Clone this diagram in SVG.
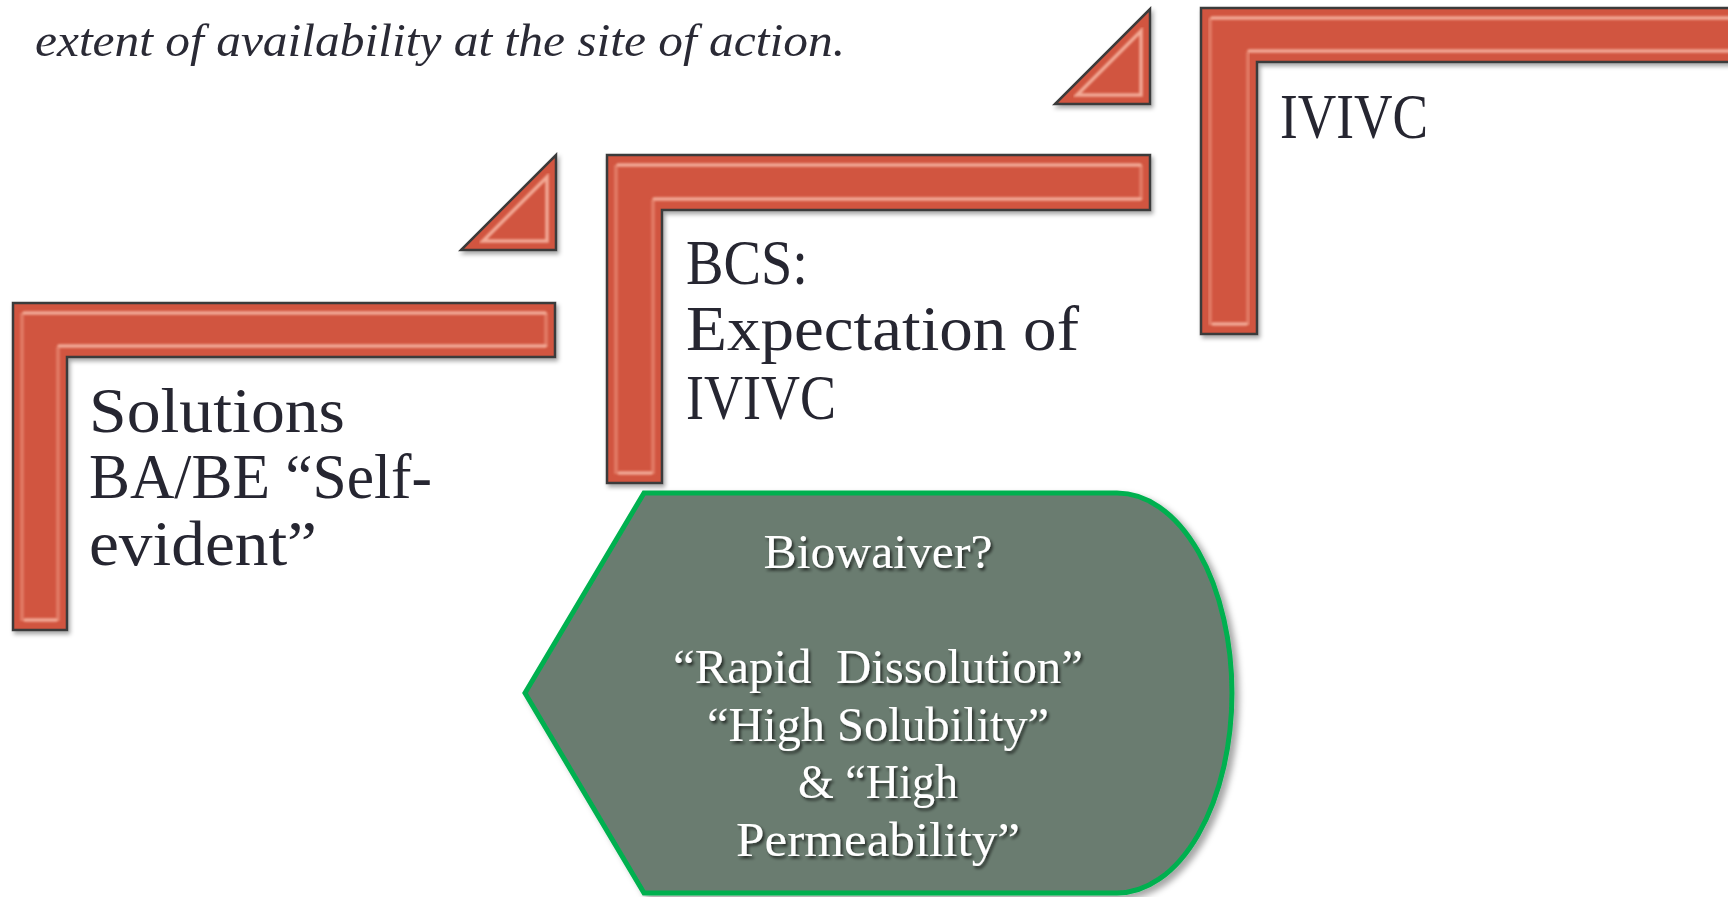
<svg xmlns="http://www.w3.org/2000/svg" width="1728" height="897" viewBox="0 0 1728 897">
  <defs>
    <filter id="shadow" x="-5%" y="-5%" width="115%" height="115%">
      <feDropShadow dx="2" dy="3" stdDeviation="2" flood-color="#000" flood-opacity="0.35"/>
    </filter>
    <filter id="soft" x="-5%" y="-5%" width="110%" height="110%">
      <feGaussianBlur stdDeviation="1.3"/>
    </filter>
    <filter id="boxshadow" x="-5%" y="-5%" width="115%" height="115%">
      <feDropShadow dx="5" dy="4" stdDeviation="3" flood-color="#000" flood-opacity="0.35"/>
    </filter>
    <filter id="textshadow" x="-5%" y="-20%" width="115%" height="150%">
      <feDropShadow dx="2" dy="2.5" stdDeviation="1.5" flood-color="#000" flood-opacity="0.65"/>
    </filter>
  </defs>
  <style>
    .bracket { fill: #D1543F; stroke: #3a3a3a; stroke-width: 2.5; stroke-linejoin: miter; filter: url(#shadow); }
    .bevel { fill: none; stroke: #F8B8A4; stroke-width: 3.5; stroke-linecap: round; opacity: 0.85; filter: url(#soft); }
    .bevel-side { fill: none; stroke: #EE9680; stroke-width: 4; opacity: 0.55; filter: url(#soft); }
    .label { font-family: "Liberation Serif", "DejaVu Serif", serif; font-size: 63px; fill: #262631; }
    .note { font-family: "Liberation Serif", "DejaVu Serif", serif; font-style: italic; font-size: 47px; fill: #2a2a35; }
    .callout { fill: #6B7C70; stroke: #00B050; stroke-width: 5; stroke-linejoin: miter; filter: url(#boxshadow); }
    .callout-text { font-family: "Liberation Serif", "DejaVu Serif", serif; font-size: 48px; fill: #ffffff; text-anchor: middle; filter: url(#textshadow); }
  </style>

  <rect width="1728" height="897" fill="#ffffff"/>

  <!-- definition line at the top -->
  <g id="definition">
    <text class="note" x="35" y="56" textLength="810" lengthAdjust="spacingAndGlyphs">extent of availability at the site of action.</text>
  </g>

  <!-- step 1 -->
  <g id="step-solutions">
    <path class="bracket" d="M13,303 H555 V357 H67 V630 H13 Z"/>
    <path class="bevel-side" d="M22,313 V621 M58,347 V621 M546,313 V347"/>
    <path class="bevel" d="M24,313 H545 M59,346 H545 M25,620 H56"/>
    <text class="label" x="89" y="432" textLength="256" lengthAdjust="spacingAndGlyphs">Solutions</text>
    <text class="label" x="89" y="498" textLength="343" lengthAdjust="spacingAndGlyphs">BA/BE “Self-</text>
    <text class="label" x="89" y="565" textLength="228" lengthAdjust="spacingAndGlyphs">evident”</text>
  </g>

  <!-- step 2 -->
  <g id="step-bcs">
    <path class="bracket" d="M607,155 H1150 V210 H662 V483 H607 Z"/>
    <path class="bevel-side" d="M616,165 V474 M653,200 V474 M1141,165 V200"/>
    <path class="bevel" d="M618,165 H1140 M654,199 H1140 M619,473 H651"/>
    <text class="label" x="686" y="284" textLength="122" lengthAdjust="spacingAndGlyphs">BCS:</text>
    <text class="label" x="686" y="350" textLength="393" lengthAdjust="spacingAndGlyphs">Expectation of</text>
    <text class="label" x="686" y="419" textLength="150" lengthAdjust="spacingAndGlyphs">IVIVC</text>
  </g>

  <!-- step 3 -->
  <g id="step-ivivc">
    <path class="bracket" d="M1201,8 H1745 V62 H1257 V334 H1201 Z"/>
    <path class="bevel-side" d="M1210,18 V325 M1248,52 V325"/>
    <path class="bevel" d="M1212,18 H1750 M1249,51 H1750 M1213,324 H1246"/>
    <text class="label" x="1280" y="138" textLength="148" lengthAdjust="spacingAndGlyphs">IVIVC</text>
  </g>

  <!-- rising arrowheads between the steps -->
  <g id="connectors">
    <g id="arrow-1-2">
      <path class="bracket" d="M556,155 V250 H461 Z"/>
      <path class="bevel" d="M547,177 V241 H483 Z"/>
    </g>
    <g id="arrow-2-3">
      <path class="bracket" d="M1150,9 V104 H1055 Z"/>
      <path class="bevel" d="M1141,31 V95 H1077 Z"/>
    </g>
  </g>

  <!-- biowaiver callout -->
  <g id="biowaiver">
    <path class="callout" d="M644,493 H1117 A115,200 0 0 1 1117,893 H644 L525,693 Z"/>
    <text class="callout-text" x="878" y="568" textLength="229" lengthAdjust="spacingAndGlyphs">Biowaiver?</text>
    <text class="callout-text" x="878" y="683" textLength="410" lengthAdjust="spacingAndGlyphs">“Rapid&#160; Dissolution”</text>
    <text class="callout-text" x="878" y="741" textLength="342" lengthAdjust="spacingAndGlyphs">“High Solubility”</text>
    <text class="callout-text" x="878" y="798" textLength="160" lengthAdjust="spacingAndGlyphs">&amp; “High</text>
    <text class="callout-text" x="878" y="856" textLength="284" lengthAdjust="spacingAndGlyphs">Permeability”</text>
  </g>
</svg>
